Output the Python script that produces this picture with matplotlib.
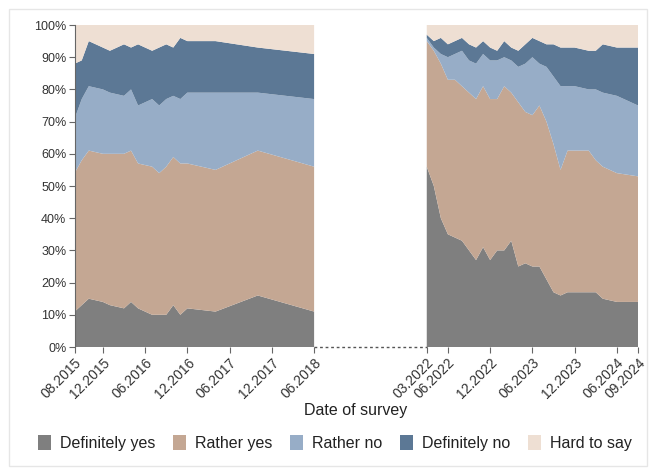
import matplotlib.pyplot as plt
from matplotlib.patches import Rectangle

plt.rcParams["font.family"] = ["Liberation Sans", "DejaVu Sans"]

CATEGORIES = ["Definitely yes", "Rather yes", "Rather no", "Definitely no", "Hard to say"]
COLORS = ["#7f7f7f", "#c4a793", "#97adc7", "#5c7895", "#eedfd3"]

# first period of surveys
DATES_1 = ["08.2015", "09.2015", "10.2015", "12.2015", "01.2016", "03.2016", "04.2016",
           "05.2016", "07.2016", "08.2016", "09.2016", "10.2016", "11.2016", "12.2016",
           "04.2017", "10.2017", "06.2018"]
DEF_YES_1 = [11, 13, 15, 14, 13, 12, 14, 12, 10, 10, 10, 13, 10, 12, 11, 16, 11]
RATHER_YES_1 = [43, 45, 46, 46, 47, 48, 47, 45, 46, 44, 46, 46, 47, 45, 44, 45, 45]
RATHER_NO_1 = [17, 19, 20, 20, 19, 18, 19, 18, 21, 21, 21, 19, 20, 22, 24, 18, 21]
DEF_NO_1 = [17, 12, 14, 13, 13, 16, 13, 19, 15, 18, 17, 15, 19, 16, 16, 14, 14]
HARD_1 = [12, 11, 5, 7, 8, 6, 7, 6, 8, 7, 6, 7, 4, 5, 5, 7, 9]

# second period of surveys
DATES_2 = ["03.2022", "04.2022", "05.2022", "06.2022", "07.2022", "08.2022", "09.2022",
           "10.2022", "11.2022", "12.2022", "01.2023", "02.2023", "03.2023", "04.2023",
           "05.2023", "06.2023", "07.2023", "08.2023", "09.2023", "10.2023", "11.2023",
           "12.2023", "02.2024", "03.2024", "04.2024", "06.2024", "09.2024"]
DEF_YES_2 = [56, 50, 40, 35, 34, 33, 30, 27, 31, 27, 30, 30, 33, 25, 26, 25, 25, 21, 17, 16,
             17, 17, 17, 17, 15, 14, 14]
RATHER_YES_2 = [39, 42, 48, 48, 49, 48, 49, 50, 50, 50, 47, 51, 46, 51, 47, 47, 50, 49, 46, 39,
                44, 44, 44, 41, 41, 40, 39]
RATHER_NO_2 = [1, 1, 3, 7, 8, 11, 10, 11, 10, 12, 12, 9, 10, 11, 15, 18, 13, 17, 21, 26,
               20, 20, 19, 22, 23, 24, 22]
DEF_NO_2 = [1, 2, 5, 4, 4, 4, 5, 5, 4, 4, 3, 5, 4, 5, 6, 6, 7, 7, 10, 12, 12, 12, 12, 12,
            15, 15, 18]
HARD_2 = [3, 5, 4, 6, 5, 4, 6, 7, 5, 7, 8, 5, 7, 8, 6, 4, 5, 6, 6, 7, 7, 7, 8, 8, 6, 7, 7]

TICKS_1 = ["08.2015", "12.2015", "06.2016", "12.2016", "06.2017", "12.2017", "06.2018"]
TICKS_2 = ["03.2022", "06.2022", "12.2022", "06.2023", "12.2023", "06.2024", "09.2024"]
GAP_MONTHS = 16  # compressed width of the break between the two periods


def month_index(label):
    month, year = label.split(".")
    return int(year) * 12 + int(month) - 1


START_1 = month_index(DATES_1[0])
END_1 = month_index(DATES_1[-1])
START_2 = month_index(DATES_2[0])
OFFSET_2 = END_1 - START_1 + GAP_MONTHS


def position(label):
    idx = month_index(label)
    if idx <= END_1:
        return idx - START_1
    return idx - START_2 + OFFSET_2


fig = plt.figure(figsize=(6.51, 4.72), dpi=100)
fig.patches.append(Rectangle((9 / 651, 6 / 472), 638 / 651, 457 / 472, transform=fig.transFigure,
                             fill=False, edgecolor="#e6e6e6", linewidth=1.0))
ax = fig.add_axes([74.7 / 651, 1 - 347 / 472, (638 - 74.7) / 651, 322 / 472])

x1 = [position(d) for d in DATES_1]
x2 = [position(d) for d in DATES_2]
polys = ax.stackplot(x1, DEF_YES_1, RATHER_YES_1, RATHER_NO_1, DEF_NO_1, HARD_1,
                     colors=COLORS, labels=CATEGORIES, linewidth=0)
ax.stackplot(x2, DEF_YES_2, RATHER_YES_2, RATHER_NO_2, DEF_NO_2, HARD_2,
             colors=COLORS, linewidth=0)

ax.plot([x1[-1], x2[0]], [0, 0], linestyle=(0, (2, 2)), color="#555555", linewidth=1.0,
        clip_on=False)

ax.set_xlim(0, x2[-1])
ax.set_ylim(0, 100)
ax.set_yticks(range(0, 101, 10))
ax.set_yticklabels([f"{v}%" for v in range(0, 101, 10)])

ticks = TICKS_1 + TICKS_2
ax.set_xticks([position(t) for t in ticks])
ax.set_xticklabels(ticks, rotation=45, ha="right", rotation_mode="anchor")

for side in ["top", "right", "bottom"]:
    ax.spines[side].set_visible(False)
ax.spines["left"].set_color("#666666")
ax.tick_params(axis="both", colors="#666666", labelcolor="#333333", labelsize=9, length=4,
               width=0.8)
ax.tick_params(axis="x", labelsize=10, pad=2)
ax.tick_params(axis="y", pad=2)

fig.text(356 / 651, 1 - 410 / 472, "Date of survey", ha="center", va="center", fontsize=11.5,
         color="#222222")

fig.legend(polys, CATEGORIES, loc="center", bbox_to_anchor=(335 / 651, 1 - 443 / 472), ncol=5,
           frameon=False, fontsize=11.5, handlelength=0.8, handleheight=1.1, handletextpad=0.6,
           columnspacing=1.08, labelcolor="#222222")

fig.savefig("out.png", dpi=100, facecolor="white")
